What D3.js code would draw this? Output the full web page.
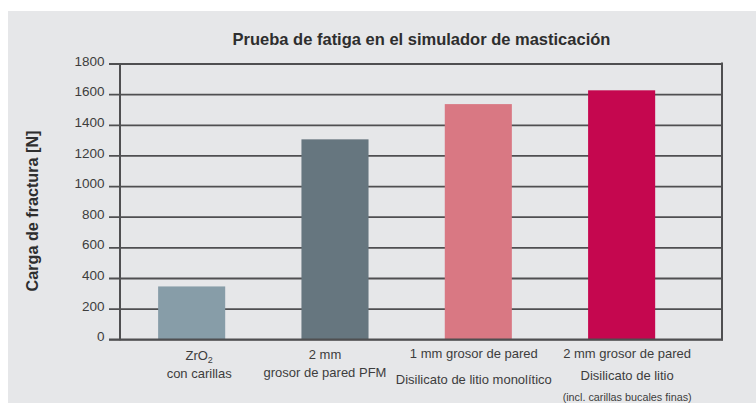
<!DOCTYPE html>
<html>
<head>
<meta charset="utf-8">
<script src="https://cdn.jsdelivr.net/npm/d3@7"></script>
<style>
  html, body { margin: 0; padding: 0; background: #ffffff; }
  svg { display: block; font-family: "Liberation Sans", Arial, sans-serif; }
</style>
</head>
<body>
<svg id="chart" width="756" height="403"></svg>
<script>
// ---- data ----
const title = "Prueba de fatiga en el simulador de masticación";
const yAxisTitle = "Carga de fractura [N]";
const categories = ["ZrO2", "PFM", "LS2 monolítico", "LS2 carillas"];
const values = [345, 1305, 1535, 1625];
const barColors = ["#879da8", "#66767f", "#d97883", "#c5074f"];
const yTicks = [0, 200, 400, 600, 800, 1000, 1200, 1400, 1600, 1800];
const categoryLabels = [
  [{t: "ZrO", sub: "2"}, {t: "con carillas"}],
  [{t: "2 mm"}, {t: "grosor de pared PFM"}],
  [{t: "1 mm grosor de pared"}, {t: "Disilicato de litio monolítico"}],
  [{t: "2 mm grosor de pared"}, {t: "Disilicato de litio"}, {t: "(incl. carillas bucales finas)", small: true}]
];

// ---- layout ----
const labelBaselines = [[21, 38.5], [20, 38], [19, 45], [19, 41, 62]];
const labelDx = [7.5, -10, -4.5, 5.5];
const svg = d3.select("#chart");
const W = 756, H = 403;
const plot = {left: 120, right: 722, top: 63.5, bottom: 339.3};
const lineColor = "#4f4f51";
const textColor = "#3d3d3d";

svg.append("rect").attr("x", 0).attr("y", 0).attr("width", W).attr("height", H).attr("fill", "#ffffff");
svg.append("rect").attr("x", 8).attr("y", 11).attr("width", W - 8).attr("height", H - 11).attr("fill", "#e6e7e9");

const x = d3.scaleBand().domain(categories).range([plot.left, 693.3]).paddingInner(0.532).paddingOuter(0.266);
const y = d3.scaleLinear().domain([0, 1800]).range([plot.bottom, plot.top]);

// grid + ticks
const yAxis = d3.axisLeft(y).tickValues(yTicks).tickFormat(d3.format("d"))
  .tickSize(-(plot.right - plot.left)).tickSizeOuter(0).tickPadding(0);
const gy = svg.append("g").attr("transform", `translate(${plot.left},0)`).call(yAxis);
gy.select(".domain").remove();
gy.selectAll(".tick line")
  .attr("x1", -11)
  .attr("x2", plot.right - plot.left + 1)
  .attr("stroke", lineColor).attr("stroke-width", 1.8);
gy.selectAll(".tick text")
  .attr("x", -15.5)
  .attr("dy", "0.12em")
  .attr("fill", textColor)
  .style("font-size", "13.5px")
  .style("font-family", "'Liberation Sans', Arial, sans-serif");

// bars
svg.append("g").selectAll("rect").data(values).join("rect")
  .attr("x", (d, i) => x(categories[i]))
  .attr("width", x.bandwidth())
  .attr("y", d => y(d))
  .attr("height", d => y(0) - y(d))
  .attr("fill", (d, i) => barColors[i]);

// frame lines
svg.append("line").attr("x1", plot.left).attr("x2", plot.left).attr("y1", plot.top).attr("y2", plot.bottom + 0.9)
  .attr("stroke", lineColor).attr("stroke-width", 2);
svg.append("line").attr("x1", plot.right).attr("x2", plot.right).attr("y1", plot.top - 0.9).attr("y2", plot.bottom + 0.9)
  .attr("stroke", lineColor).attr("stroke-width", 2);
svg.append("line").attr("x1", plot.left - 11).attr("x2", plot.right + 1).attr("y1", y(0)).attr("y2", y(0))
  .attr("stroke", lineColor).attr("stroke-width", 1.8);

// category labels
categoryLabels.forEach((lines, i) => {
  const cx = x(categories[i]) + x.bandwidth() / 2 + labelDx[i];
  lines.forEach((ln, j) => {
    const t = svg.append("text")
      .attr("x", cx)
      .attr("y", plot.bottom + labelBaselines[i][j])
      .attr("text-anchor", "middle")
      .attr("fill", textColor)
      .style("font-size", ln.small ? "10.8px" : "13px")
      .text(ln.t);
    if (ln.sub) {
      t.append("tspan").attr("dy", "3").style("font-size", "9px").text(ln.sub);
    }
  });
});

// title
svg.append("text")
  .attr("x", 421.5).attr("y", 44.5)
  .attr("text-anchor", "middle")
  .attr("fill", "#2e2e2e")
  .style("font-size", "16.5px").style("font-weight", "bold")
  .text(title);

// y axis title
svg.append("text")
  .attr("transform", "translate(37.5,211) rotate(-90)")
  .attr("text-anchor", "middle")
  .attr("fill", "#2e2e2e")
  .style("font-size", "16.2px").style("font-weight", "bold")
  .text(yAxisTitle);
</script>
</body>
</html>
